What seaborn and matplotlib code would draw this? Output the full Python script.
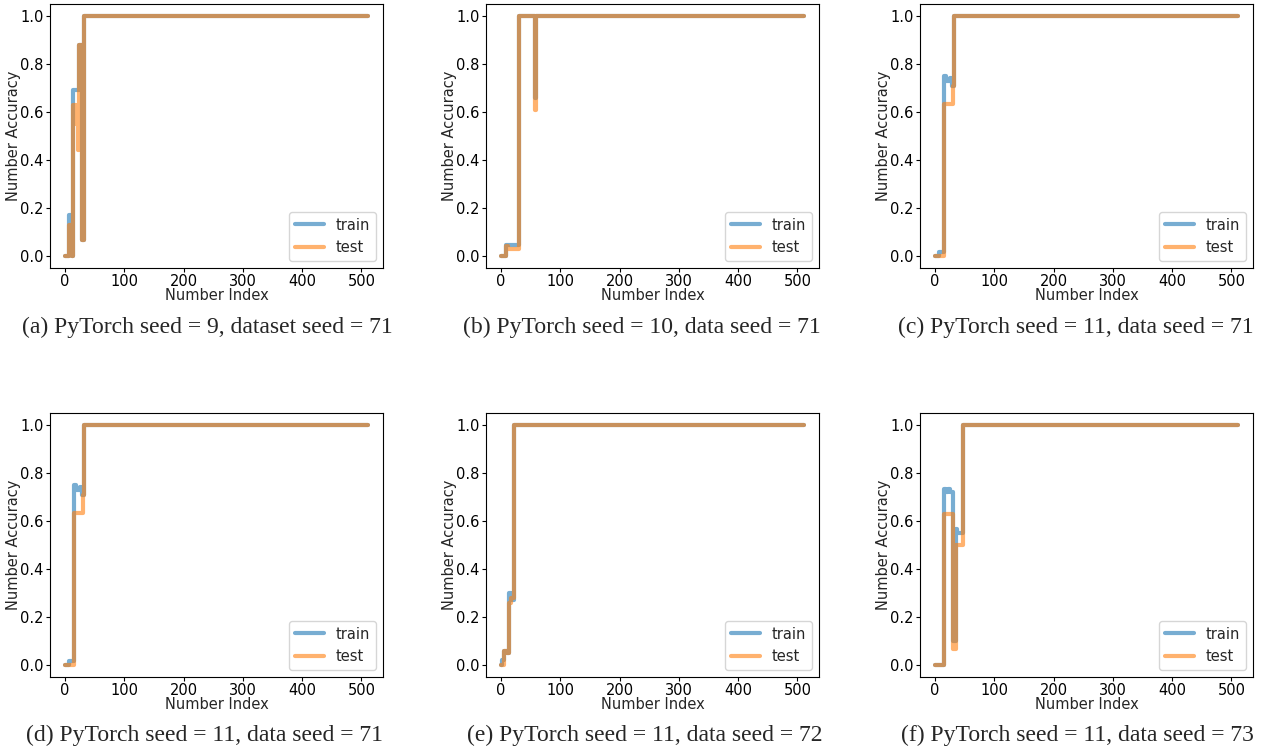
import matplotlib
matplotlib.use("Agg")
import matplotlib.pyplot as plt
import seaborn as sns
import pandas as pd

# Per-number accuracy, stored as change points (index where the value starts)
LAST_INDEX = 511

a_train_idx = [0, 6, 12, 13, 24, 29, 32, LAST_INDEX]
a_train_acc = [0.0, 0.17, 0.0, 0.69, 0.88, 0.065, 1.0, 1.0]
a_test_idx = [0, 6, 12, 13, 19, 21, 24, 29, 32, LAST_INDEX]
a_test_acc = [0.0, 0.13, 0.0, 0.63, 0.55, 0.44, 0.88, 0.065, 1.0, 1.0]

b_train_idx = [0, 8, 30, 58, 59, LAST_INDEX]
b_train_acc = [0.0, 0.045, 1.0, 0.66, 1.0, 1.0]
b_test_idx = [0, 8, 12, 30, 58, 59, LAST_INDEX]
b_test_acc = [0.0, 0.04, 0.03, 1.0, 0.61, 1.0, 1.0]

c_train_idx = [0, 7, 15, 18, 25, 27, 29, 31, LAST_INDEX]
c_train_acc = [0.0, 0.015, 0.75, 0.73, 0.74, 0.73, 0.71, 1.0, 1.0]
c_test_idx = [0, 15, 30, 31, LAST_INDEX]
c_test_acc = [0.0, 0.635, 0.71, 1.0, 1.0]

e_train_idx = [0, 2, 5, 10, 13, 17, 21, LAST_INDEX]
e_train_acc = [0.0, 0.02, 0.06, 0.05, 0.30, 0.27, 1.0, 1.0]
e_test_idx = [0, 3, 5, 10, 13, 17, 21, LAST_INDEX]
e_test_acc = [0.0, 0.0, 0.06, 0.05, 0.26, 0.28, 1.0, 1.0]

f_train_idx = [0, 15, 19, 21, 25, 30, 35, 37, 47, LAST_INDEX]
f_train_acc = [0.0, 0.735, 0.72, 0.735, 0.72, 0.10, 0.565, 0.55, 1.0, 1.0]
f_test_idx = [0, 15, 30, 35, 47, LAST_INDEX]
f_test_acc = [0.0, 0.63, 0.065, 0.50, 1.0, 1.0]

captions = [
    "(a) PyTorch seed = 9, dataset seed = 71",
    "(b) PyTorch seed = 10, data seed = 71",
    "(c) PyTorch seed = 11, data seed = 71",
    "(d) PyTorch seed = 11, data seed = 71",
    "(e) PyTorch seed = 11, data seed = 72",
    "(f) PyTorch seed = 11, data seed = 73",
]

panels = [
    (a_train_idx, a_train_acc, a_test_idx, a_test_acc),
    (b_train_idx, b_train_acc, b_test_idx, b_test_acc),
    (c_train_idx, c_train_acc, c_test_idx, c_test_acc),
    (c_train_idx, c_train_acc, c_test_idx, c_test_acc),
    (e_train_idx, e_train_acc, e_test_idx, e_test_acc),
    (f_train_idx, f_train_acc, f_test_idx, f_test_acc),
]

sns.set_style("ticks", {"axes.edgecolor": "black", "xtick.color": "black",
                        "ytick.color": "black"})
plt.rcParams["font.family"] = ["DejaVu Sans"]
plt.rcParams["font.size"] = 10.5

W, H = 1261, 751
fig = plt.figure(figsize=(W / 100, H / 100), dpi=100)

col_left = [50, 486, 920]
ax_w = 333
row_top = [4, 413]
ax_h = 264
cap_x = [[207, 642, 1076], [205, 645, 1077]]
cap_y = [327, 735]

palette = sns.color_palette("tab10")

for k, (tr_x, tr_y, te_x, te_y) in enumerate(panels):
    r, c = divmod(k, 3)
    left = col_left[c] / W
    bottom = 1 - (row_top[r] + ax_h) / H
    ax = fig.add_axes([left, bottom, ax_w / W, ax_h / H])
    df_tr = pd.DataFrame({"idx": tr_x, "acc": tr_y})
    df_te = pd.DataFrame({"idx": te_x, "acc": te_y})
    sns.lineplot(data=df_tr, x="idx", y="acc", ax=ax, color=palette[0],
                 alpha=0.6, linewidth=3, drawstyle="steps-post", label="train")
    sns.lineplot(data=df_te, x="idx", y="acc", ax=ax, color=palette[1],
                 alpha=0.6, linewidth=3, drawstyle="steps-post", label="test")
    ax.set_xlim(-25.55, 536.55)
    ax.set_ylim(-0.05, 1.05)
    ax.set_xticks([0, 100, 200, 300, 400, 500])
    ax.set_yticks([0.0, 0.2, 0.4, 0.6, 0.8, 1.0])
    ax.set_yticklabels(["0.0", "0.2", "0.4", "0.6", "0.8", "1.0"])
    ax.set_xlabel("Number Index", fontsize=10.5, labelpad=-1)
    ax.set_ylabel("Number Accuracy", fontsize=10.5, labelpad=-0.5)
    ax.tick_params(labelsize=10.5, length=3, width=0.8, pad=1.5)
    for s in ax.spines.values():
        s.set_linewidth(0.8)
        s.set_visible(True)
    ax.legend(loc="lower right", fontsize=10.5, frameon=True)
    fig.text(cap_x[r][c] / W, 1 - cap_y[r] / H, captions[k], ha="center",
             va="center", fontsize=17, family="Liberation Serif")

fig.savefig("out.png", dpi=100)
